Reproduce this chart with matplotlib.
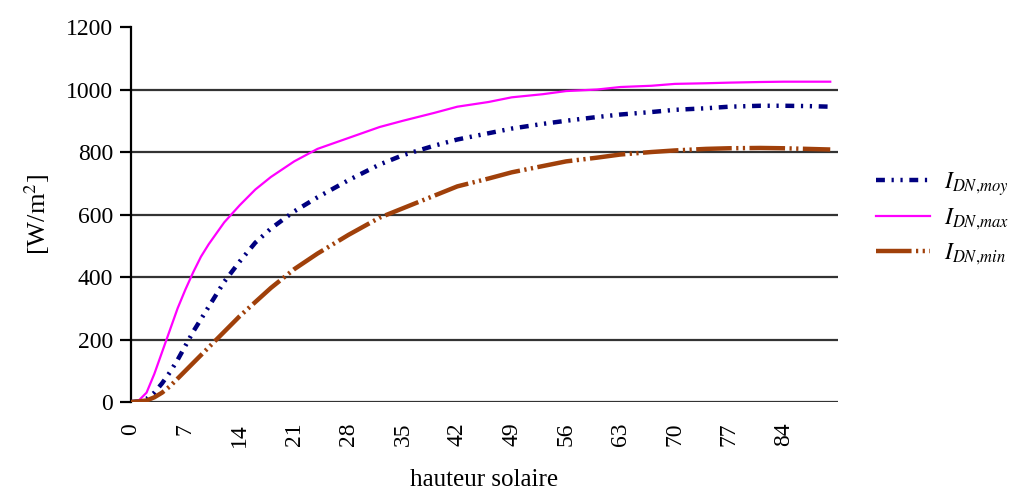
import matplotlib
matplotlib.use('Agg')
import matplotlib.pyplot as plt
import numpy as np

plt.rcParams['font.family'] = ['Liberation Serif', 'DejaVu Serif']
plt.rcParams['mathtext.fontset'] = 'stix'

# hauteur solaire (degrés)
hauteur = [0, 1, 2, 3, 4, 5, 6, 7, 8, 9, 10, 12, 14, 16, 18, 21, 24, 28, 32, 35,
           39, 42, 46, 49, 53, 56, 60, 63, 67, 70, 74, 77, 81, 84, 87, 90]
i_moy = [0, 2, 10, 30, 60, 95, 135, 180, 225, 265, 305, 385, 450, 510, 555, 610,
         655, 710, 760, 790, 820, 840, 860, 875, 890, 900, 912, 920, 928, 935,
         940, 945, 948, 948, 947, 945]
i_max = [0, 5, 30, 90, 160, 230, 300, 360, 415, 465, 505, 575, 630, 680, 720, 770,
         810, 845, 880, 900, 925, 945, 960, 975, 985, 995, 1000, 1008, 1012, 1018,
         1020, 1022, 1024, 1025, 1025, 1025]
i_min = [0, 2, 5, 15, 30, 50, 75, 100, 125, 150, 175, 225, 275, 320, 365, 425,
         475, 535, 590, 620, 660, 690, 715, 735, 755, 770, 782, 792, 800, 805,
         810, 812, 813, 812, 810, 808]
xticks = list(range(0, 85, 7))
yticks = [0, 200, 400, 600, 800, 1000, 1200]

fig = plt.figure(figsize=(10.11, 4.92), dpi=100)
ax = fig.add_axes([0.1296, 0.1829, 0.6993, 0.7622])

ax.plot(hauteur, i_moy, color='#000080', lw=3.2,
        linestyle=(0, (2, 1.5, 0.5, 1.5, 0.5, 1.5)), label=r'$I_{DN,\!moy}$', zorder=3)
ax.plot(hauteur, i_max, color='#ff00ff', lw=1.6, label=r'$I_{DN,\!max}$', zorder=3)
ax.plot(hauteur, i_min, color='#a0400a', lw=3.2,
        linestyle=(0, (8, 1, 0.5, 1, 0.5, 1)), label=r'$I_{DN,\!min}$', zorder=3)

ax.set_xlim(0, 91)
ax.set_ylim(0, 1200)
ax.set_xticks(xticks)
ax.set_yticks(yticks)
for v in yticks[:-1]:
    ax.axhline(v, color='#333333', lw=1.6, zorder=1)

for s in ['top', 'right', 'bottom']:
    ax.spines[s].set_visible(False)
ax.spines['left'].set_linewidth(1.6)
ax.tick_params(axis='y', length=8, width=1.6, labelsize=17, pad=5)
ax.tick_params(axis='x', length=0, labelsize=17, pad=15, labelrotation=90)

ax.set_xlabel('hauteur solaire', fontsize=18, labelpad=16)
ax.set_ylabel('[W/m$^2$]', fontsize=19, labelpad=10)

leg = ax.legend(loc='upper left', bbox_to_anchor=(864 / 1011, 1 - 158 / 492),
                bbox_transform=fig.transFigure, frameon=False, borderpad=0,
                fontsize=17, handlelength=2.3, labelspacing=0.4, handletextpad=0.6)

fig.savefig('out.png', dpi=100)
